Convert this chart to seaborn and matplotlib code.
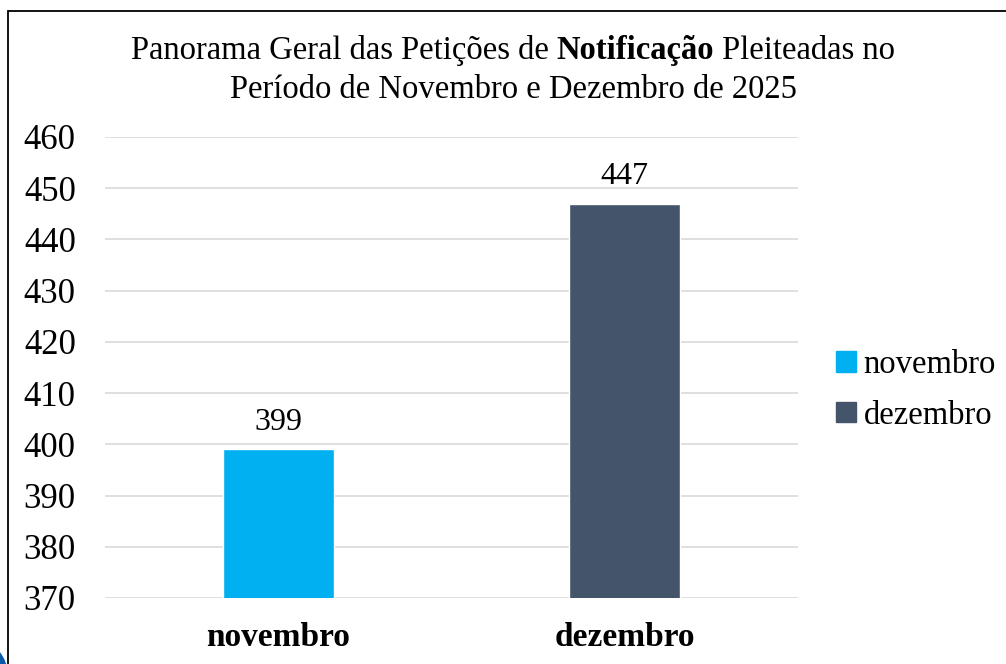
import matplotlib
matplotlib.use("Agg")
import matplotlib.pyplot as plt
import seaborn as sns
import pandas as pd
from matplotlib.patches import Rectangle, Ellipse

categories = ["novembro", "dezembro"]
values = [399, 447]
colors = ["#00B0F0", "#44546A"]
yticks = [370, 380, 390, 400, 410, 420, 430, 440, 450, 460]

sns.set_theme(style="white")
plt.rcParams['font.family'] = ['Liberation Serif', 'DejaVu Serif']
plt.rcParams['text.color'] = 'black'
plt.rcParams['xtick.color'] = 'black'
plt.rcParams['ytick.color'] = 'black'

df = pd.DataFrame({"mes": categories, "valor": values})

fig = plt.figure(figsize=(10.06, 6.64), dpi=100)
ax = fig.add_axes([105/1006, 1-598/664, (798-105)/1006, (598-137)/664])

sns.barplot(data=df, x="mes", y="valor", hue="mes", palette=colors,
            dodge=False, width=0.32, ax=ax, legend=False, order=categories,
            hue_order=categories, saturation=1)

ax.set_ylim(370, 460)
ax.set_yticks(yticks)
ax.set_yticklabels([str(t) for t in yticks], fontsize=25, color="black")
ax.set_xticks(range(len(categories)))
ax.set_xticklabels(categories, fontsize=24, fontweight="bold", color="black")
ax.tick_params(axis="both", length=0)
ax.tick_params(axis="y", pad=21)
ax.tick_params(axis="x", pad=17)
ax.set_xlabel("")
ax.set_ylabel("")
ax.yaxis.grid(True, color="#D9D9D9", linewidth=1.2)
ax.set_axisbelow(True)
for s in ax.spines.values():
    s.set_visible(False)

for c in ax.containers:
    ax.bar_label(c, fmt="%d", fontsize=23, padding=9, color="black")

# legend
handles = [plt.Rectangle((0, 0), 1, 1, color=c) for c in colors]
fig.legend(handles, categories, loc="center left", bbox_to_anchor=(836/1006, 1-390/664),
           frameon=False, fontsize=23.5, handlelength=0.6, handleheight=0.6,
           handletextpad=0.25, labelspacing=0.62, labelcolor="black",
           borderaxespad=0, borderpad=0)

# frame
fig.patches.append(Rectangle((8/1006, -0.1), 1.2, 1-11/664+0.1, transform=fig.transFigure,
                             fill=False, edgecolor="black", linewidth=1.3))
fig.patches.append(Ellipse((-22/1006, -12/664), 60/1006, 70/664, transform=fig.transFigure,
                           facecolor="#0A5BAA", edgecolor="none", zorder=0))

# title with bold word
fig.canvas.draw()
r = fig.canvas.get_renderer()
fs = 23.5
parts = [("Panorama Geral das Petições de ", "normal"), ("Notificação", "bold"), (" Pleiteadas no", "normal")]
texts = [fig.text(0, 0, p, fontsize=fs, fontweight=w, va="baseline", color="black") for p, w in parts]
widths = [t.get_window_extent(r).width for t in texts]
total = sum(widths)
x0 = 513 - total/2
ybase = 1 - 59/664
for t, w in zip(texts, widths):
    t.set_position((x0/1006, ybase))
    x0 += w
fig.text(513/1006, 1-98/664, "Período de Novembro e Dezembro de 2025", fontsize=fs,
         ha="center", va="baseline", color="black")

fig.savefig("out.png", dpi=100)
